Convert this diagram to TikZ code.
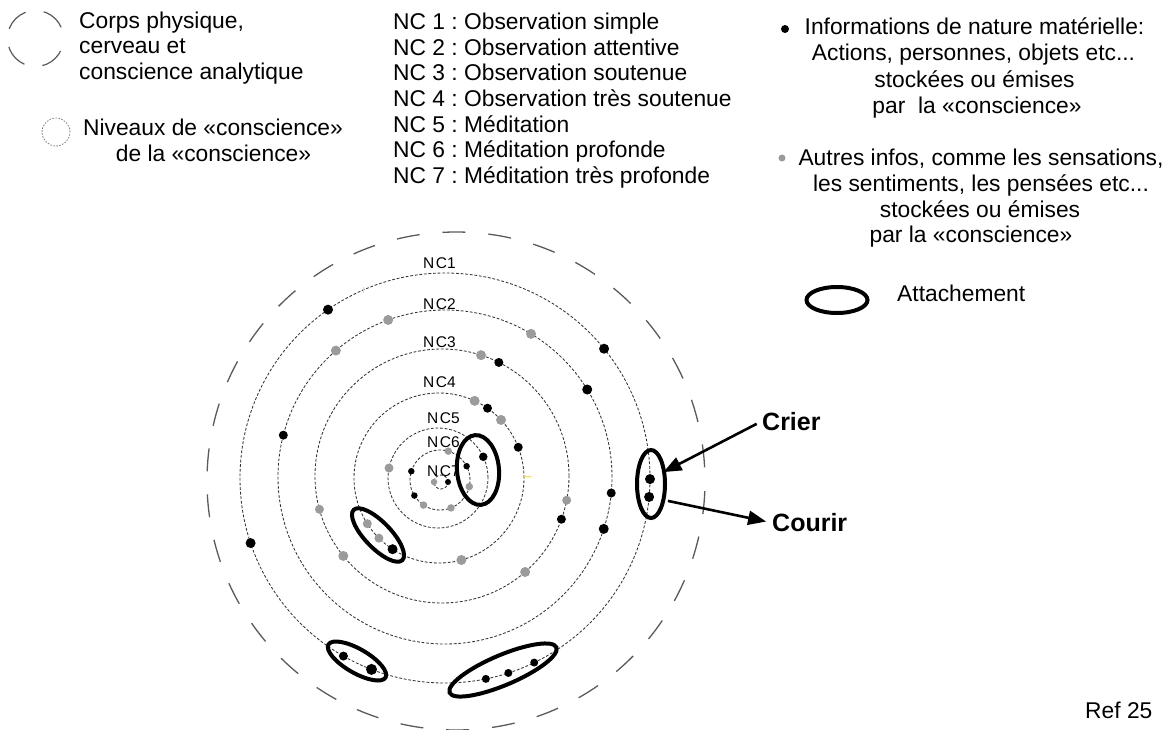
\documentclass[tikz,border=0pt]{standalone}
\usepackage{fontspec}
\setmainfont{Liberation Sans}
\usetikzlibrary{shapes.geometric,arrows.meta}

\definecolor{dotgray}{HTML}{9B9B9B}
\definecolor{ringgray}{HTML}{333333}
\definecolor{outergray}{HTML}{5A5A5A}
\definecolor{ticky}{HTML}{F3D67A}

\begin{document}
\frenchspacing
\begin{tikzpicture}[x=1pt,y=-1pt,
  txt/.style={font=\fontsize{22.8}{26}\selectfont, inner sep=0pt, anchor=base west},
  txtc/.style={txt, anchor=base},
  lbl/.style={font=\fontsize{15.5}{18}\selectfont, inner sep=0pt, anchor=base west},
  boldtxt/.style={font=\fontsize{25}{28}\selectfont\bfseries, inner sep=0pt, anchor=base west},
  ring/.style={draw=ringgray, line width=0.85pt, dash pattern=on 2.8pt off 1.8pt},
  body/.style={draw=outergray, line width=1.3pt, dash pattern=on 23pt off 23pt, dash phase=32.3pt},
  bdot/.style={circle, fill=black, inner sep=0pt, minimum size=#1},
  bdot/.default=10pt,
  gdot/.style={circle, fill=dotgray, inner sep=0pt, minimum size=#1},
  gdot/.default=10pt,
  attach/.style={ellipse, draw=black, line width=4pt, inner sep=0pt},
  pointer/.style={line width=2.6pt, -{Triangle[length=18pt,width=14pt]}},
]
\useasboundingbox (0,0) rectangle (1176,729);

% ---------- legend, top left ----------
\node[circle, draw=outergray, line width=1.2pt, minimum size=56pt, inner sep=0pt,
      dash pattern=on 24pt off 18.4pt, dash phase=30.8pt] (iconbody) at (35.5,38.5) {};
\node[txt] (corps1) at (79,28.3) {Corps physique,};
\node[txt] (corps2) at (79,53.8) {cerveau et};
\node[txt] (corps3) at (79,79.3) {conscience analytique};

\node[circle, draw=gray, line width=0.8pt, minimum size=28pt, inner sep=0pt,
      dash pattern=on 1.6pt off 1.4pt] (iconlevel) at (56,132) {};
\node[txtc] (niv1) at (213,135) {Niveaux de «conscience»};
\node[txtc] (niv2) at (213.5,161.7) {de la «conscience»};

% ---------- list of levels ----------
\node[txt] (l1) at (393,29.3)  {NC 1 : Observation simple};
\node[txt] (l2) at (393,55.0)  {NC 2 : Observation attentive};
\node[txt] (l3) at (393,80.6)  {NC 3 : Observation soutenue};
\node[txt] (l4) at (393,106.3) {NC 4 : Observation très soutenue};
\node[txt] (l5) at (393,132.0) {NC 5 : Méditation};
\node[txt] (l6) at (393,157.7) {NC 6 : Méditation profonde};
\node[txt] (l7) at (393,183.3) {NC 7 : Méditation très profonde};

% ---------- legend, top right ----------
\node[bdot=8pt] (legb) at (785,29) {};
\node[txtc] (r1) at (974.5,34.5) {Informations de nature matérielle:};
\node[txtc] (r2) at (973.5,60.8) {Actions, personnes, objets etc...};
\node[txtc] (r3) at (974.5,87)   {stockées ou émises};
\node[txtc] (r4) at (977,113)    {par\ \ la «conscience»};

\node[gdot=7pt] (legg) at (782,158) {};
\node[txtc] (s1) at (981,165)   {Autres infos, comme les sensations,};
\node[txtc] (s2) at (981,191)   {les sentiments, les pensées etc...};
\node[txtc] (s3) at (980,217)   {stockées ou émises};
\node[txtc] (s4) at (971,242.5) {par la «conscience»};

\node[attach, minimum width=61pt, minimum height=26pt] (legatt) at (837,300) {};
\node[txt] (att) at (897,301.7) {Attachement};

\node[txt] (ref) at (1085,718.3) {Ref 25};

% ---------- centres of the rings ----------
\coordinate (O0) at (456,481);
\coordinate (O1) at (445,478);
\coordinate (O2) at (445,477);
\coordinate (O3) at (442,476);
\coordinate (O4) at (439,478);
\coordinate (O5) at (438,478);
\coordinate (O6) at (440,480);
\coordinate (O7) at (441,482);

% body, brain and analytic consciousness
\draw[body] (O0) circle[radius=249pt];

% levels of consciousness
\draw[ring] (O1) circle[radius=205pt];
\draw[ring] (O2) circle[radius=167pt];
\draw[ring] (O3) circle[radius=127pt];
\draw[ring] (O4) circle[radius=85pt];
\draw[ring] (O5) circle[radius=50pt];
\draw[ring] (O6) circle[radius=30pt];
\draw[ring] (O7) circle[radius=7pt];

% small yellow marks
\draw[ticky, line width=1pt] (363,287) -- (363,293);
\draw[ticky, line width=1pt] (524,476) -- (531,476);

% ring labels
\node[lbl] (nc1) at (423,268.3) {N\kern1.5pt C1};
\node[lbl] (nc2) at (423,309.3) {N\kern1.5pt C2};
\node[lbl] (nc3) at (423,347.3) {N\kern1.5pt C3};
\node[lbl] (nc4) at (423,387.7) {N\kern1.5pt C4};
\node[lbl] (nc5) at (427,423)   {N\kern1.5pt C5};
\node[lbl] (nc6) at (427,447.5) {N\kern1.5pt C6};
\node[lbl] (nc7) at (427,476)   {N\kern1.5pt C7};

% ---------- information dots ----------
% NC1
\path (O1) ++(235.2:205) node[bdot] (a1) {};
\path (O1) ++(-39.1:205) node[bdot] (a2) {};
\path (O1) ++(161.5:205) node[bdot] (a3) {};
\path (O1) ++(0.3:205)   node[bdot] (cr1) {};
\path (O1) ++(5.3:205)   node[bdot] (cr2) {};
\path (O1) ++(119.7:205) node[bdot=9pt] (a4) {};
\path (O1) ++(111.0:205) node[bdot=11pt] (a5) {};
\path (O1) ++(78.5:205)  node[bdot=8pt] (a6) {};
\path (O1) ++(72.0:205)  node[bdot=8pt] (a7) {};
\path (O1) ++(64.2:205)  node[bdot=8pt] (a8) {};
% NC2
\path (O2) ++(-109.9:167) node[gdot] (b1) {};
\path (O2) ++(-130.8:167) node[gdot] (b2) {};
\path (O2) ++(-59.0:167)  node[gdot] (b3) {};
\path (O2) ++(-31.6:167)  node[bdot] (b4) {};
\path (O2) ++(-165.5:167) node[bdot=9pt] (b5) {};
\path (O2) ++(5.5:167)    node[bdot=9pt] (b6) {};
\path (O2) ++(18.1:167)   node[bdot] (b7) {};
% NC3
\path (O3) ++(-72.1:127) node[gdot] (c1) {};
\path (O3) ++(-63.4:127) node[bdot=9pt] (c2) {};
\path (O3) ++(11.0:127)  node[gdot=9pt] (c3) {};
\path (O3) ++(19.9:127)  node[bdot=9pt] (c4) {};
\path (O3) ++(49.1:127)  node[gdot] (c5) {};
\path (O3) ++(164.8:127) node[gdot=9pt] (c6) {};
\path (O3) ++(141.0:127) node[gdot] (c7) {};
% NC4
\path (O4) ++(-65.2:85) node[gdot] (d1) {};
\path (O4) ++(-55.2:85) node[bdot=9pt] (d2) {};
\path (O4) ++(-43.1:85) node[gdot] (d3) {};
\path (O4) ++(-21.2:85) node[bdot=9pt] (d4) {};
\path (O4) ++(74.7:85)  node[gdot] (d5) {};
\path (O4) ++(147.5:85) node[gdot=9pt] (d6) {};
\path (O4) ++(135.0:85) node[gdot=9pt] (d7) {};
\path (O4) ++(123.1:85) node[bdot] (d8) {};
% NC5
\path (O5) ++(191.5:50) node[gdot=9pt] (e1) {};
\path (O5) ++(-25.1:50) node[bdot=8.5pt] (e2) {};
% NC6
\path (O6) ++(-74:30)   node[gdot=7.5pt] (f1) {};
\path (O6) ++(123.2:30) node[gdot=7.5pt] (f2) {};
\path (O6) ++(68.5:30)  node[gdot=7.5pt] (f3) {};
\path (O6) ++(12.7:30)  node[gdot=7.5pt] (f4) {};
\path (O6) ++(-163:30)  node[bdot=6.5pt] (f5) {};
\path (O6) ++(148.7:30) node[bdot=6.5pt] (f6) {};
\path (O6) ++(-27.4:30) node[bdot=6.5pt] (f7) {};
% NC7
\path (O7) ++(180:7) node[gdot=6.5pt] (g1) {};
\path (O7) ++(0:7)   node[bdot=6pt] (g2) {};

% ---------- attachments ----------
\node[attach, minimum width=42pt, minimum height=70pt, rotate=5]  (att1) at (478,470) {};
\node[attach, minimum width=70pt, minimum height=26pt, rotate=-46] (att2) at (378,535) {};
\node[attach, minimum width=28pt, minimum height=68pt]            (att3) at (651,484) {};
\node[attach, minimum width=66pt, minimum height=24pt, rotate=-30] (att4) at (357,661) {};
\node[attach, minimum width=116pt, minimum height=30pt, rotate=23] (att5) at (503,670) {};

% ---------- actions ----------
\node[boldtxt] (crier) at (762,430) {Crier};
\node[boldtxt] (courir) at (772,531.7) {Courir};
\draw[pointer, shorten <=6pt, shorten >=10pt] (crier.west) -- (cr1);
\draw[pointer, shorten <=14pt, shorten >=6pt] (cr2) -- (courir.west);

\end{tikzpicture}
\end{document}
